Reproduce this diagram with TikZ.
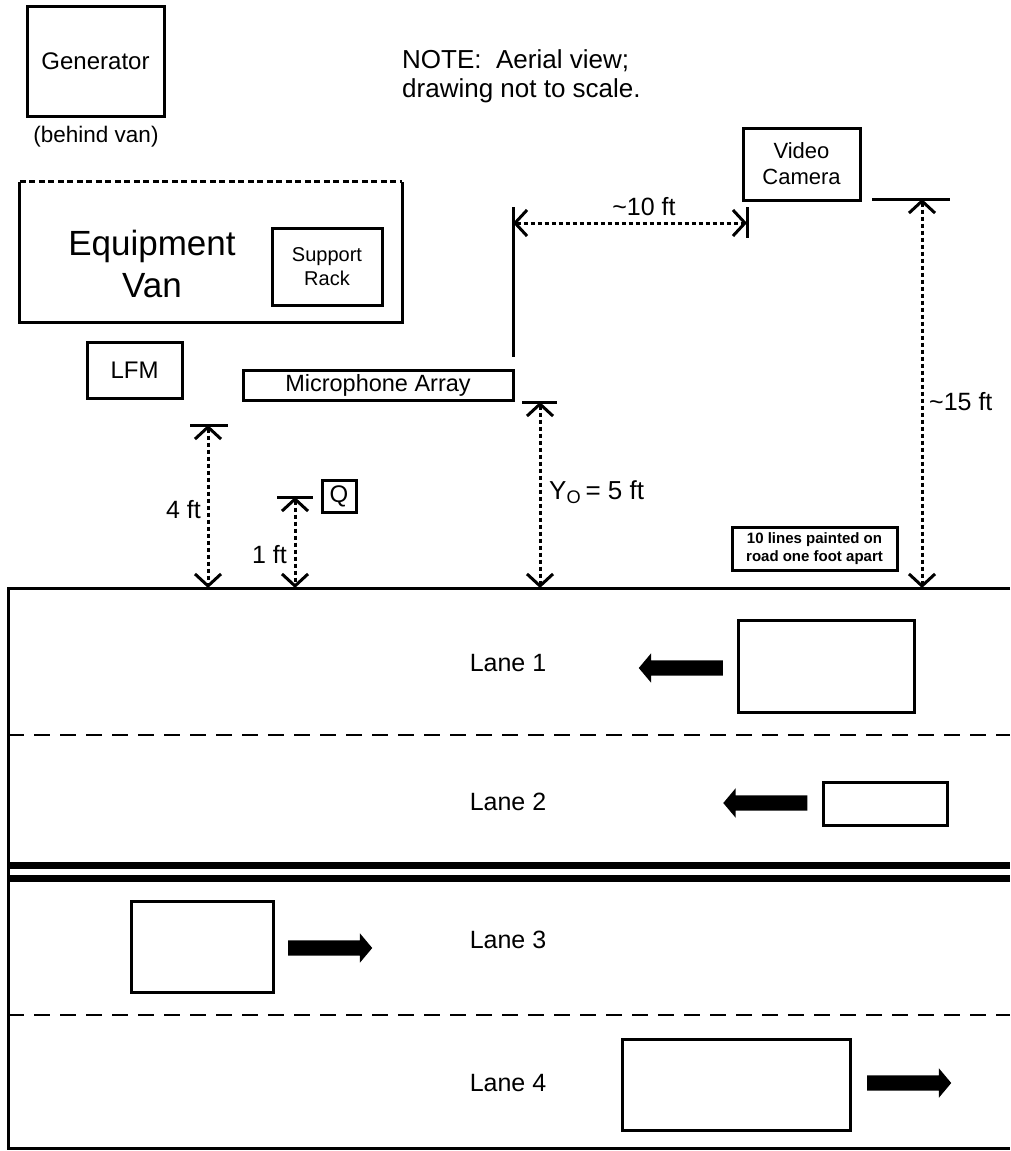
\documentclass[tikz,border=0pt]{standalone}
\usepackage{fontspec}
\setmainfont{Liberation Sans}
\usetikzlibrary{arrows.meta, positioning, shapes.arrows}
\newcommand{\fsz}[2]{\fontsize{#1}{#2}\selectfont}
\tikzset{
  bx/.style={draw, line width=3pt, align=center, inner sep=0pt, font=\fsz{24}{28}},
  car/.style={draw, line width=3pt, inner sep=0pt},
  dirl/.style={single arrow, fill=black, inner xsep=0pt, inner ysep=7.5pt, minimum width=28pt, minimum height=84pt,
    single arrow head extend=7pt, single arrow tip angle=100, shape border rotate=180},
  dirr/.style={dirl, shape border rotate=0},
  tk/.style={line width=3pt},
  dm/.style={{Straight Barb[length=12pt,width=26pt]}-{Straight Barb[length=12pt,width=26pt]},
    line width=3pt, dash pattern=on 4.5pt off 2.5pt},
  lbl/.style={font=\fsz{25}{29}, inner sep=0pt},
  road/.style={line width=3pt},
  sep/.style={line width=2.6pt, dash pattern=on 16pt off 10pt},
}
\begin{document}
\begin{tikzpicture}[x=1pt, y=-1pt]
\useasboundingbox (0,0) rectangle (1010,1151);

% equipment side
\node[bx, minimum width=137pt, minimum height=110pt] (gen) at (95.5,61) {Generator};
\node[lbl, font=\fsz{22.5}{26}] (behind) at (96,137) {(behind van)};
\node[lbl, font=\fsz{26}{29}, align=left, anchor=west] (note) at (402,76) {NOTE:\ \ Aerial view;\\drawing not to scale.};

\node[minimum width=382pt, minimum height=140pt, inner sep=0pt] (van) at (211,252) {};
\draw[tk] (van.north west) -- (van.south west) -- (van.south east) -- (van.north east);
\draw[tk, dash pattern=on 6pt off 3.5pt] (van.north west) -- (van.north east);
\node[lbl, font=\fsz{35}{42}, align=center] (vantxt) at (152,264) {Equipment\\Van};
\node[bx, font=\fsz{20}{24}, minimum width=110pt, minimum height=77pt] (rack) at (327,266.5) {Support\\Rack};

\node[bx, minimum width=95pt, minimum height=56pt] (lfm) at (134.5,370) {LFM};
\node[bx, font=\fsz{23.5}{27}, minimum width=270pt, minimum height=30pt] (mic) at (378,385) {Microphone Array};
\node[bx, minimum width=34pt, minimum height=32pt] (q) at (339,496) {Q};
\node[bx, font=\fsz{22}{26}, minimum width=117pt, minimum height=72pt] (cam) at (801.5,164) {Video\\Camera};
\node[bx, font=\fsz{15}{18}\bfseries, minimum width=165pt, minimum height=43pt] (paint) at (814.5,548.5) {10 lines painted on\\road one foot apart};

% road
\coordinate (rtl) at (8,588);
\coordinate (rbl) at (8,1148);
\draw[road] (1010,588) -- (rtl) -- (rbl) -- (1010,1148);
\draw[sep] (8,735) -- (1010,735);
\draw[road, line width=7pt] (8,865) -- (1010,865);
\draw[road, line width=7pt] (8,878) -- (1010,878);
\draw[sep] (8,1015) -- (1010,1015);

% dimensions
\coordinate (t4) at (208,425);  \coordinate (b4) at (208,588);
\coordinate (t1) at (295,497);  \coordinate (b1) at (295,588);
\coordinate (to) at (540,402);  \coordinate (bo) at (540,588);
\coordinate (t15) at (922,199); \coordinate (b15) at (922,588);
\coordinate (l10) at (513,223); \coordinate (r10) at (747,223);
\draw[tk] (190,425) -- (228,425);
\draw[tk] (277,497) -- (313,497);
\draw[tk] (522,402) -- (557,402);
\draw[tk] (872,199) -- (950,199);
\draw[tk] (513,207) -- (513,357);
\draw[tk] (747,207) -- (747,238);
\draw[dm] (t4) -- (b4);
\draw[dm] (t1) -- (b1);
\draw[dm] (to) -- (bo);
\draw[dm] (t15) -- (b15);
\draw[dm] (l10) -- (r10);
\node[lbl, anchor=east] (d4) at (201,510) {4 ft};
\node[lbl, anchor=east] (d1) at (287,555) {1 ft};
\node[lbl, font=\fsz{26}{30}, anchor=west] (dy) at (549,492) {Y\textsubscript{O}\,= 5 ft};
\node[lbl, anchor=west] (d15) at (929,402) {\string~15 ft};
\node[lbl] (d10) at (644,207) {\string~10 ft};

% lanes
\node[lbl] (lane1) at (508,663) {Lane 1};
\node[lbl] (lane2) at (508,802) {Lane 2};
\node[lbl] (lane3) at (508,940) {Lane 3};
\node[lbl] (lane4) at (508,1083) {Lane 4};
\node[car, minimum width=176pt, minimum height=92pt] (car1) at (826.5,666) {};
\node[car, minimum width=124pt, minimum height=43pt] (car2) at (885,803.5) {};
\node[car, minimum width=142pt, minimum height=91pt] (car3) at (202,946.5) {};
\node[car, minimum width=228pt, minimum height=91pt] (car4) at (736,1084.5) {};
\node[dirl] (go1) at (684,668) {};
\node[dirl] (go2) at (768.5,803) {};
\node[dirr] (go3) at (327,948) {};
\node[dirr] (go4) at (906,1083) {};
\end{tikzpicture}
\end{document}
